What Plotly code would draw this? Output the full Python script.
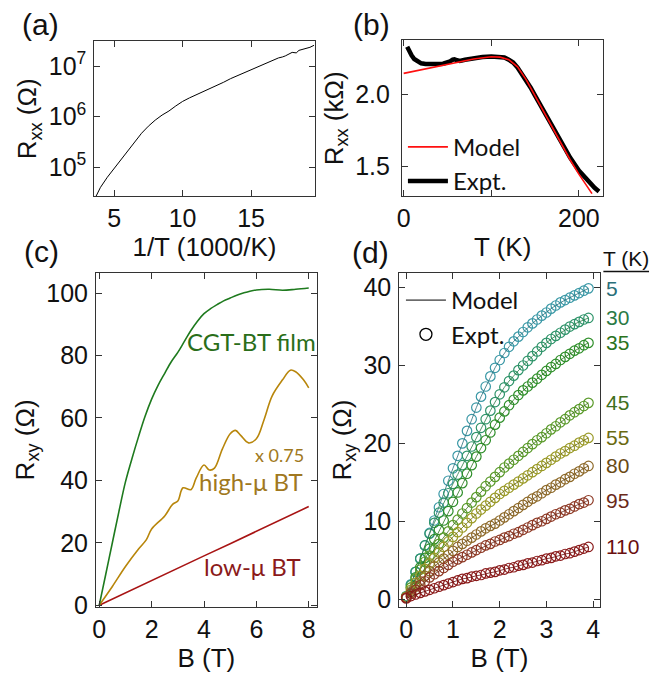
import plotly.graph_objects as go

# ---------------- data ----------------
# (a) R_xx vs 1/T
invT_a = [3.67, 4.0, 4.5, 5.0, 5.5, 6.0, 6.5, 7.0, 7.5, 8.0, 8.5, 9.0, 9.5, 10.0, 10.5, 11.0,
          11.5, 12.0, 12.5, 13.0, 13.5, 14.0, 14.5, 15.0, 15.5, 16.0, 16.3, 16.5, 17.0, 17.3,
          17.5, 18.0, 18.3, 18.5, 18.8, 19.0, 19.3, 19.6]
logR_a = [4.42, 4.60, 4.80, 4.97, 5.14, 5.31, 5.48, 5.67, 5.81, 5.93, 6.03, 6.11, 6.21, 6.30, 6.37, 6.43,
          6.49, 6.56, 6.62, 6.68, 6.75, 6.81, 6.87, 6.93, 6.99, 7.05, 7.09, 7.10, 7.16, 7.18,
          7.20, 7.27, 7.26, 7.31, 7.33, 7.35, 7.37, 7.41]
R_a = [10 ** v for v in logR_a]

# (b) R_xx vs T
T_expt = [4, 6, 9, 12, 15, 20, 25, 30, 35, 40, 45, 50, 53, 56, 58, 61, 64, 70, 80, 90, 100, 110,
          115, 120, 125, 130, 135, 140, 145, 150, 160, 170, 180, 190, 200, 210, 218, 223]
R_expt = [2.33, 2.30, 2.27, 2.245, 2.23, 2.215, 2.21, 2.208, 2.208, 2.21, 2.212, 2.218, 2.228, 2.24,
          2.243, 2.236, 2.232, 2.24, 2.25, 2.258, 2.262, 2.26, 2.255, 2.24, 2.22, 2.185, 2.14, 2.095,
          2.045, 1.99, 1.88, 1.77, 1.665, 1.56, 1.47, 1.40, 1.35, 1.325]
T_model = [0, 20, 40, 60, 80, 100, 110, 120, 130, 140, 150, 160, 170, 180, 190, 200, 210, 215]
R_model = [2.145, 2.17, 2.195, 2.22, 2.245, 2.26, 2.258, 2.24, 2.19, 2.10, 1.99, 1.87, 1.76, 1.65,
           1.545, 1.445, 1.355, 1.31]

# (c) R_xy vs B
B_cgt = [0, 0.25, 0.5, 0.75, 1.0, 1.25, 1.5, 1.75, 2.0, 2.25, 2.5, 2.75, 3.0, 3.25, 3.5, 3.75, 4.0,
         4.25, 4.5, 4.75, 5.0, 5.25, 5.5, 5.75, 6.0, 6.5, 7.0, 7.5, 8.0]
R_cgt = [0, 10, 20, 30, 39.5, 47, 54, 60.5, 66, 70.5, 74.3, 78, 81, 84.5, 88, 91, 93.4,
         95, 96.3, 97.5, 98.4, 99.3, 100, 100.6, 101, 101.2, 100.9, 101.2, 101.6]
B_high = [0, 0.5, 1.0, 1.5, 1.8, 2.0, 2.5, 2.8, 3.0, 3.2, 3.5, 3.7, 4.0, 4.2, 4.4, 4.7, 5.0, 5.2,
          5.4, 5.7, 6.0, 6.3, 6.6, 7.0, 7.3, 7.5, 7.8, 8.0]
R_high = [0, 6, 12.4, 18, 21, 24.4, 28.6, 32.3, 33.4, 37.6, 37, 40.7, 44.9, 43.3, 43.9, 50, 54.9, 56,
          54.4, 52, 53.3, 59.6, 67, 72.2, 75.3, 74.8, 72.2, 69.6]
B_low = [0, 1, 2, 3, 4, 5, 6, 7, 8]
R_low = [0, 4.0, 8.0, 11.9, 15.8, 19.7, 23.6, 27.6, 31.6]

# (d) R_xy vs B at several temperatures
B_d = [0.0, 0.1, 0.2, 0.3, 0.4, 0.5, 0.6, 0.7, 0.8, 0.9, 1.0, 1.1, 1.2, 1.3, 1.4, 1.5, 1.6, 1.7,
       1.8, 1.9, 2.0, 2.1, 2.2, 2.3, 2.4, 2.5, 2.6, 2.7, 2.8, 2.9, 3.0, 3.1, 3.2, 3.3, 3.4, 3.5,
       3.6, 3.7, 3.8, 3.9]
temps = ["5", "30", "35", "45", "55", "80", "95", "110"]
R_5K = [0.4, 1.9, 3.5, 5.2, 6.9, 8.5, 10.1, 11.8, 13.5, 15.2, 16.8, 18.4, 20.0, 21.6, 23.1, 24.6,
        26.0, 27.3, 28.6, 29.7, 30.7, 31.6, 32.4, 33.1, 33.7, 34.3, 34.9, 35.4, 35.9, 36.4, 36.8,
        37.3, 37.7, 38.1, 38.4, 38.7, 39.0, 39.3, 39.6, 39.9]
R_30K = [0.3, 1.8, 3.5, 5.2, 6.9, 8.4, 9.8, 11.1, 12.4, 13.6, 14.8, 16.0, 17.2, 18.4, 19.6, 20.8,
         22.0, 23.1, 24.2, 25.3, 26.3, 27.2, 28.0, 28.7, 29.4, 30.0, 30.6, 31.2, 31.8, 32.4, 32.9,
         33.4, 33.8, 34.2, 34.6, 35.0, 35.3, 35.6, 35.9, 36.1]
R_35K = [0.3, 1.5, 2.8, 4.1, 5.3, 6.5, 7.7, 8.9, 10.1, 11.3, 12.5, 13.7, 14.9, 16.1, 17.2, 18.3,
         19.4, 20.4, 21.4, 22.4, 23.3, 24.1, 24.9, 25.6, 26.2, 26.8, 27.3, 27.8, 28.3, 28.8, 29.3,
         29.8, 30.2, 30.7, 31.1, 31.5, 31.9, 32.2, 32.6, 32.9]
R_45K = [0.3, 1.5, 2.6, 3.8, 4.8, 5.6, 6.4, 7.1, 7.9, 8.7, 9.5, 10.2, 11.0, 11.7, 12.4, 13.1,
         13.8, 14.5, 15.1, 15.7, 16.3, 16.9, 17.4, 17.9, 18.4, 18.9, 19.4, 19.9, 20.4, 20.8, 21.3,
         21.8, 22.2, 22.7, 23.1, 23.6, 24.0, 24.4, 24.8, 25.2]
R_55K = [0.3, 1.2, 2.1, 3.0, 3.9, 4.6, 5.3, 6.0, 6.7, 7.4, 8.0, 8.6, 9.2, 9.8, 10.4, 11.0,
         11.5, 12.0, 12.5, 13.0, 13.5, 13.9, 14.3, 14.7, 15.1, 15.5, 15.9, 16.3, 16.7, 17.1, 17.5,
         17.9, 18.3, 18.7, 19.0, 19.4, 19.7, 20.1, 20.4, 20.7]
R_80K = [0.2, 0.9, 1.6, 2.3, 3.0, 3.6, 4.2, 4.7, 5.2, 5.7, 6.2, 6.7, 7.1, 7.5, 7.9, 8.3,
         8.7, 9.1, 9.4, 9.7, 10.1, 10.5, 10.9, 11.3, 11.7, 12.1, 12.5, 12.9, 13.2, 13.6, 14.0,
         14.3, 14.7, 15.0, 15.4, 15.7, 16.1, 16.4, 16.8, 17.1]
R_95K = [0.2, 0.7, 1.2, 1.8, 2.3, 2.8, 3.2, 3.6, 4.0, 4.4, 4.8, 5.1, 5.4, 5.7, 6.0, 6.3,
         6.6, 6.9, 7.1, 7.4, 7.6, 7.9, 8.1, 8.4, 8.6, 8.9, 9.2, 9.5, 9.8, 10.0, 10.3,
         10.6, 10.9, 11.1, 11.4, 11.6, 11.9, 12.2, 12.4, 12.7]
R_110K = [0.1, 0.4, 0.6, 0.8, 1.0, 1.2, 1.4, 1.6, 1.8, 2.0, 2.2, 2.4, 2.6, 2.7, 2.9, 3.0,
          3.1, 3.3, 3.4, 3.5, 3.7, 3.8, 4.0, 4.1, 4.3, 4.4, 4.6, 4.7, 4.9, 5.0, 5.2,
          5.3, 5.5, 5.6, 5.8, 5.9, 6.1, 6.3, 6.5, 6.7]
R_d = [R_5K, R_30K, R_35K, R_45K, R_55K, R_80K, R_95K, R_110K]

# ---------------- styles ----------------
W, H = 652, 677
marker_cols = ["#3a98a6", "#2f946a", "#2f8f2a", "#5a9a2a", "#9a9a28", "#8e6a2a", "#8e3a26", "#8a1a1a"]
label_cols = ["#2a6f7a", "#2a7a45", "#2a7320", "#3f7020", "#6a6a12", "#6a4a14", "#6a2a1a", "#6a1010"]
AX_FONT = dict(family="Liberation Sans, Arial, sans-serif", size=25, color="#111")
TXT_FONT = "Lato, Open Sans, sans-serif"


def xdom(l, r):
    return [l / W, r / W]


def ydom(t, b):
    return [1 - b / H, 1 - t / H]


fig = go.Figure()

# (a)
fig.add_trace(go.Scatter(x=invT_a, y=R_a, mode="lines", line=dict(color="black", width=1),
                         xaxis="x", yaxis="y", showlegend=False))
# (b)
fig.add_trace(go.Scatter(x=T_expt, y=R_expt, mode="lines", name="Expt.", legendrank=2,
                         line=dict(color="black", width=4.5), xaxis="x2", yaxis="y2", legend="legend"))
fig.add_trace(go.Scatter(x=T_model, y=R_model, mode="lines", name="Model", legendrank=1,
                         line=dict(color="#ff1010", width=1.6), xaxis="x2", yaxis="y2", legend="legend"))
# (c)
fig.add_trace(go.Scatter(x=B_low, y=R_low, mode="lines", line=dict(color="#a81414", width=1.6),
                         xaxis="x3", yaxis="y3", showlegend=False))
fig.add_trace(go.Scatter(x=B_high, y=R_high, mode="lines", line=dict(color="#b8860b", width=1.6, shape="spline"),
                         xaxis="x3", yaxis="y3", showlegend=False))
fig.add_trace(go.Scatter(x=B_cgt, y=R_cgt, mode="lines", line=dict(color="#1e7a1e", width=1.6, shape="spline"),
                         xaxis="x3", yaxis="y3", showlegend=False))
# (d)
for i, (t, r) in enumerate(zip(temps, R_d)):
    fig.add_trace(go.Scatter(x=B_d, y=r, mode="markers",
                             marker=dict(symbol="circle-open", size=9.5, color=marker_cols[i], line=dict(width=1.2)),
                             xaxis="x4", yaxis="y4", showlegend=False))
    fig.add_trace(go.Scatter(x=B_d, y=r, mode="lines", line=dict(color=label_cols[i], width=0.8),
                             xaxis="x4", yaxis="y4", showlegend=False))
fig.add_trace(go.Scatter(x=[None], y=[None], mode="lines", name="Model", line=dict(color="black", width=1),
                         xaxis="x4", yaxis="y4", legend="legend2"))
fig.add_trace(go.Scatter(x=[None], y=[None], mode="markers", name="Expt.",
                         marker=dict(symbol="circle-open", size=12, color="black", line=dict(width=1.3)),
                         xaxis="x4", yaxis="y4", legend="legend2"))

axis_common = dict(showline=True, linecolor="#333", linewidth=1, mirror="ticks", ticks="inside",
                   ticklen=6, tickcolor="#333", tickwidth=1, showgrid=False, zeroline=False,
                   tickfont=AX_FONT, title_font=dict(family=AX_FONT["family"], size=26, color="#111"))

fig.update_layout(
    width=W, height=H, margin=dict(l=0, r=0, t=0, b=0),
    paper_bgcolor="white", plot_bgcolor="white",
    xaxis=dict(domain=xdom(90, 312), anchor="y", range=[3.55, 19.64], tickvals=[5, 10, 15],
               title=dict(text="1/T (1000/K)", standoff=6), **axis_common),
    yaxis=dict(domain=ydom(42, 200), anchor="x", type="log", range=[4.42, 7.49],
               tickvals=[1e5, 1e6, 1e7], ticktext=["10<sup>5</sup>", "10<sup>6</sup>", "10<sup>7</sup>"],
               title=dict(text="R<sub>xx</sub> (Ω)", standoff=4), ticklabelstandoff=2, **axis_common),
    xaxis2=dict(domain=xdom(400, 603), anchor="y2", range=[-2, 228], tickvals=[0, 100, 200],
                ticktext=["0", "", "200"], title=dict(text="T (K)", standoff=6), **axis_common),
    yaxis2=dict(domain=ydom(41, 200), anchor="x2", range=[1.29, 2.375], tickvals=[1.5, 2.0],
                ticktext=["1.5", "2.0"], title=dict(text="R<sub>xx</sub> (kΩ)", standoff=4),
                ticklabelstandoff=6, **axis_common),
    xaxis3=dict(domain=xdom(91.7, 314), anchor="y3", range=[-0.125, 8.3], tickvals=[0, 2, 4, 6, 8],
                title=dict(text="B (T)", standoff=6), **axis_common),
    yaxis3=dict(domain=ydom(278, 617.7), anchor="x3", range=[-0.5, 106.4],
                tickvals=[0, 20, 40, 60, 80, 100], title=dict(text="R<sub>xy</sub> (Ω)", standoff=4),
                ticklabelstandoff=2, **axis_common),
    xaxis4=dict(domain=xdom(397.3, 599.3), anchor="y4", range=[-0.15, 4.14], tickvals=[0, 1, 2, 3, 4],
                title=dict(text="B (T)", standoff=6), **axis_common),
    yaxis4=dict(domain=ydom(277.7, 618.3), anchor="x4", range=[-1.05, 41.9],
                tickvals=[0, 10, 20, 30, 40], title=dict(text="R<sub>xy</sub> (Ω)", standoff=4),
                ticklabelstandoff=2, **axis_common),
    legend=dict(x=401 / W, y=1 - 127 / H, xanchor="left", yanchor="top", bgcolor="rgba(0,0,0,0)",
                font=dict(family=TXT_FONT, size=24, color="#111"), itemwidth=40, tracegroupgap=0),
    legend2=dict(x=399 / W, y=1 - 283 / H, xanchor="left", yanchor="top", bgcolor="rgba(0,0,0,0)",
                 font=dict(family=TXT_FONT, size=24, color="#111"), itemwidth=40, tracegroupgap=0),
)

ann = []
for txt, cx, cy in [("(a)", 36, 25), ("(b)", 369, 25), ("(c)", 36.5, 256), ("(d)", 368.5, 257)]:
    ann.append(dict(text=txt, x=cx / W, y=1 - cy / H, xref="paper", yref="paper", showarrow=False,
                    xanchor="center", yanchor="middle", font=dict(family=AX_FONT["family"], size=30, color="#111")))
# (c) labels
for txt, bx, ry, col, sz in [("CGT-BT film", 5.8, 84.4, "#2a6e1a", 24), ("x 0.75", 6.87, 48.2, "#a07820", 18),
                             ("high-μ BT", 5.8, 39.6, "#a07820", 24), ("low-μ BT", 5.87, 12.3, "#8b1a1a", 24)]:
    ann.append(dict(text=txt, x=bx, y=ry, xref="x3", yref="y3", showarrow=False, xanchor="center",
                    yanchor="middle", font=dict(family=TXT_FONT, size=sz, color=col)))
# (d) temperature labels
ann.append(dict(text="T (K)", x=626 / W, y=1 - 263 / H, xref="paper", yref="paper", showarrow=False,
                xanchor="center", yanchor="middle", font=dict(family=AX_FONT["family"], size=21, color="#111")))
for t, yv, col in zip(temps, R_d, label_cols):
    ann.append(dict(text=t, x=604 / W, y=yv[-1], xref="paper", yref="y4", showarrow=False,
                    xanchor="left", yanchor="middle", font=dict(family=AX_FONT["family"], size=21, color=col)))
fig.update_layout(annotations=ann)
fig.add_shape(type="line", xref="paper", yref="paper", x0=603 / W, x1=649 / W, y0=1 - 276.5 / H,
              y1=1 - 276.5 / H, line=dict(color="#111", width=1.5))

fig.write_html("out.html", config={"displayModeBar": False},
               post_script="document.body.style.margin='0';")
